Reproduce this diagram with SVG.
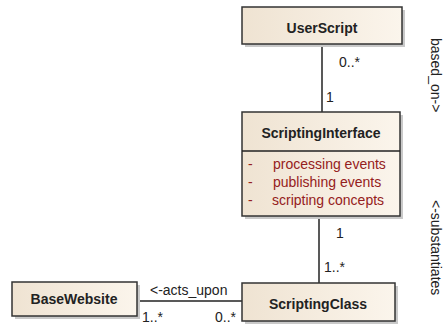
<svg xmlns="http://www.w3.org/2000/svg" width="445" height="326" viewBox="0 0 445 326">
<defs>
<linearGradient id="fill" x1="0" y1="0" x2="1" y2="0">
<stop offset="0" stop-color="#EFE3D2"/>
<stop offset="1" stop-color="#FBF5EC"/>
</linearGradient>
<style>
.box{fill:url(#fill);stroke:#333;stroke-width:1.5}
.shadow{fill:#C9C9C9}
.title{font-family:"Liberation Sans",Arial,sans-serif;font-weight:bold;font-size:14px;fill:#222;text-anchor:middle}
.attr{font-family:"Liberation Sans",Arial,sans-serif;font-size:14px;fill:#952020}
.lbl{font-family:"Liberation Sans",Arial,sans-serif;font-size:14px;fill:#222}
.conn{stroke:#222;stroke-width:1.5;fill:none}
</style>
</defs>
<rect width="445" height="326" fill="#fff"/>
<g id="connectors">
<line class="conn" x1="322" y1="44" x2="322" y2="112"/>
<line class="conn" x1="319" y1="216" x2="319" y2="283"/>
<line class="conn" x1="137" y1="301" x2="242" y2="301"/>
<text class="lbl" x="339" y="67">0..*</text>
<text class="lbl" x="326" y="102">1</text>
<text class="lbl" x="336" y="238">1</text>
<text class="lbl" x="324" y="272">1..*</text>
<text class="lbl" x="150" y="295">&lt;-acts_upon</text>
<text class="lbl" x="142" y="322">1..*</text>
<text class="lbl" x="215" y="322">0..*</text>
<text class="lbl" transform="translate(431,38) rotate(90)">based_on-&gt;</text>
<text class="lbl" transform="translate(431,200) rotate(90)">&lt;-substantiates</text>
</g>
<g id="UserScript">
<rect class="shadow" x="245" y="10" width="160" height="37"/>
<rect class="box" x="242" y="7" width="160" height="37"/>
<text class="title" x="322" y="33">UserScript</text>
</g>
<g id="ScriptingInterface">
<rect class="shadow" x="245" y="115" width="158" height="104"/>
<rect class="box" x="242" y="112" width="158" height="104"/>
<line class="conn" x1="242" y1="151" x2="400" y2="151"/>
<text class="title" x="321" y="138">ScriptingInterface</text>
<text class="attr" x="248" y="169">-</text>
<text class="attr" x="273" y="169">processing events</text>
<text class="attr" x="248" y="187">-</text>
<text class="attr" x="273" y="187">publishing events</text>
<text class="attr" x="248" y="205">-</text>
<text class="attr" x="272" y="205">scripting concepts</text>
</g>
<g id="ScriptingClass">
<rect class="shadow" x="245" y="286" width="153" height="38"/>
<rect class="box" x="242" y="283" width="153" height="38"/>
<text class="title" x="318" y="309">ScriptingClass</text>
</g>
<g id="BaseWebsite">
<rect class="shadow" x="15" y="285" width="125" height="34"/>
<rect class="box" x="12" y="282" width="125" height="34"/>
<text class="title" x="74" y="304">BaseWebsite</text>
</g>
</svg>
